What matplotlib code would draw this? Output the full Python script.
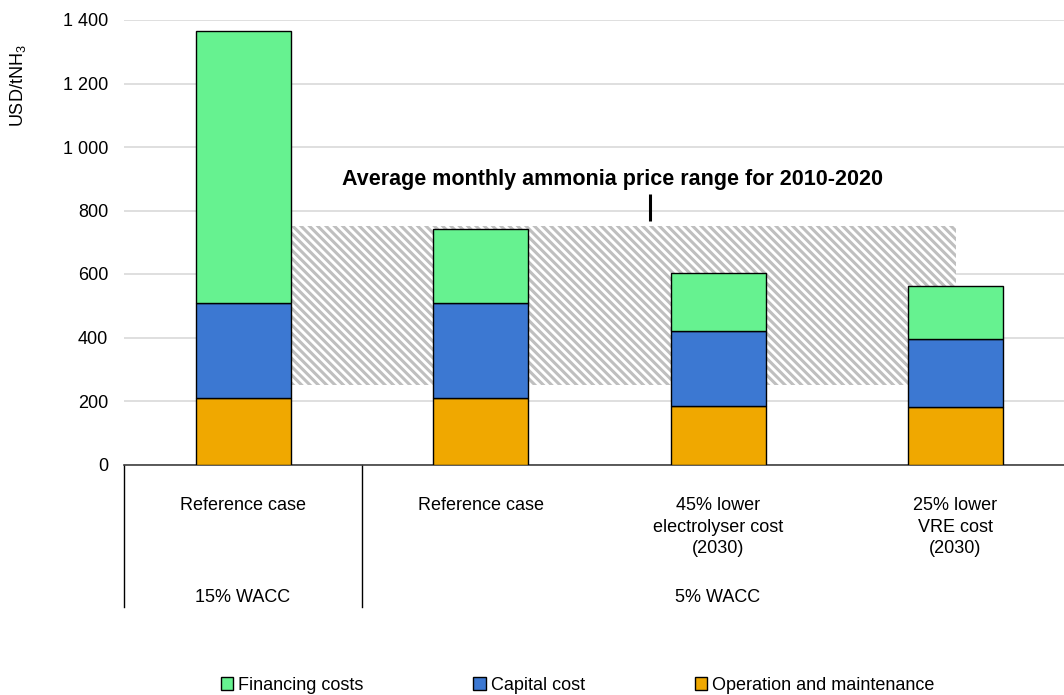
import matplotlib
matplotlib.use("Agg")
import matplotlib.pyplot as plt
from matplotlib.patches import Rectangle, Patch
from matplotlib.ticker import FuncFormatter

plt.rcParams['font.family'] = ['Liberation Sans', 'DejaVu Sans']
plt.rcParams['hatch.linewidth'] = 2.2

# ---- data ----
categories = ["Reference case", "Reference case",
              "45% lower\nelectrolyser cost\n(2030)", "25% lower\nVRE cost\n(2030)"]
groups = ["15% WACC", "5% WACC"]
group_spans = [(0, 0), (1, 3)]
om = [209, 209, 183, 180]
capital = [299, 299, 237, 215]
financing = [858, 233, 182, 167]
series_names = ["Financing costs", "Capital cost", "Operation and maintenance"]
colors = {"Financing costs": "#66F290", "Capital cost": "#3C78D2",
          "Operation and maintenance": "#F0A800"}
price_range = (250, 750)
price_label = "Average monthly ammonia price range for 2010-2020"
yticks = [0, 200, 400, 600, 800, 1000, 1200, 1400]

W, H = 1064, 695
fig = plt.figure(figsize=(W / 100, H / 100), dpi=100)
ax_left, ax_right, ax_top, ax_bottom = 124.3, 1074.3, 20, 464.5
ax = fig.add_axes([ax_left / W, 1 - ax_bottom / H, (ax_right - ax_left) / W,
                   (ax_bottom - ax_top) / H])

x = list(range(len(categories)))
bw = 0.4
ax.bar(x, om, bw, color=colors["Operation and maintenance"], edgecolor='black',
       linewidth=1, zorder=3)
b2 = [o for o in om]
ax.bar(x, capital, bw, bottom=b2, color=colors["Capital cost"], edgecolor='black',
       linewidth=1, zorder=3)
b3 = [o + c for o, c in zip(om, capital)]
ax.bar(x, financing, bw, bottom=b3, color=colors["Financing costs"], edgecolor='black',
       linewidth=1, zorder=3)

# price range hatch
ax.add_patch(Rectangle((0.2, price_range[0]), 2.8, price_range[1] - price_range[0],
                       facecolor='white', edgecolor='#BFBFBF', hatch='\\\\\\\\',
                       linewidth=0, zorder=2))
ax.text(1.555, 880, price_label, ha='center', va='baseline', fontsize=15.5,
        fontweight='bold', zorder=5)
ax.plot([1.713, 1.713], [768, 852], color='black', linewidth=2.2, zorder=5,
        solid_capstyle='butt')

ax.set_xlim(-0.5, 3.5)
ax.set_ylim(0, 1400)
ax.set_yticks(yticks)
ax.yaxis.set_major_formatter(FuncFormatter(lambda v, p: f"{int(v):,}".replace(",", " ")))
ax.tick_params(axis='y', length=0, pad=11.5, labelsize=13)
ax.set_xticks([])
ax.grid(axis='y', color='#D9D9D9', linewidth=1.2, zorder=0)
ax.set_axisbelow(True)
for s in ['left', 'top', 'right']:
    ax.spines[s].set_visible(False)
ax.spines['bottom'].set_color('#404040')
ax.spines['bottom'].set_linewidth(1.2)

# multi-level category axis
tr = ax.get_xaxis_transform()
axh = ax_bottom - ax_top
def yfrac(py):
    return -(py - ax_bottom) / axh
for xb in [-0.5, 0.5]:
    ax.plot([xb, xb], [0, yfrac(607)], transform=tr, color='black', linewidth=1,
            clip_on=False)
for xi, lab in zip(x, categories):
    ax.text(xi, yfrac(497), lab, transform=tr, ha='center', va='top', fontsize=13,
            linespacing=1.35)
for g, (a, b) in zip(groups, group_spans):
    ax.text((a + b) / 2, yfrac(597), g, transform=tr, ha='center', va='center',
            fontsize=13)

fig.text(18 / W, 1 - 86 / H, "USD/tNH$_\\mathregular{3}$", rotation=90, ha='center',
         va='center', fontsize=13)

handles = [Patch(facecolor=colors[n], edgecolor='black', linewidth=1) for n in series_names]
fig.legend(handles, series_names, loc='center', bbox_to_anchor=(577.5 / W, 1 - 685 / H),
           ncol=3, frameon=False, fontsize=13, handlelength=0.7, handleheight=0.7,
           handletextpad=0.25, columnspacing=6.1)

fig.savefig("out.png", dpi=100)
